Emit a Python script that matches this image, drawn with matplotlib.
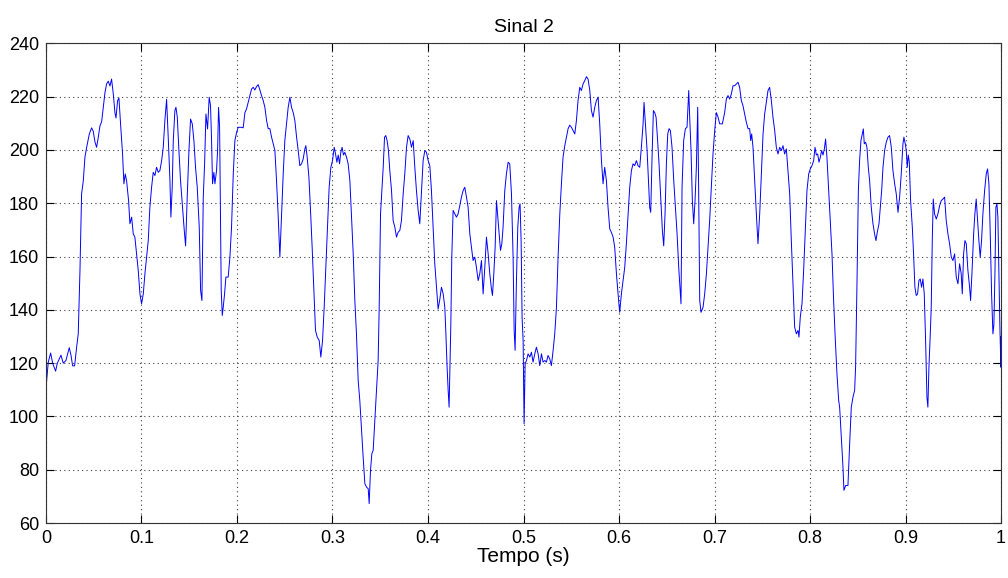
import matplotlib
matplotlib.use("Agg")
import matplotlib.pyplot as plt
import numpy as np

plt.rcParams['font.family'] = ['Liberation Sans', 'DejaVu Sans']

# tempo em ms e amplitude
t_ms = [
    0, 2.4, 4.9, 7.0, 10.1, 11.9, 15.7, 18.1, 20.9, 24.4, 26.2, 27.9, 30.0, 32.1, 33.8, 35.6,
    37.3, 39.1, 40.8, 42.6, 45.4, 47.8, 49.5, 51.3, 53.0, 54.8, 56.5, 58.3, 60.0, 61.8, 63.5,
    65.2, 67.0, 68.7, 70.5, 72.2, 73.3, 75.0, 76.4, 78.1, 80.2, 81.6, 83.0, 84.4, 86.5, 87.9,
    89.7, 91.4, 93.1, 94.9, 96.6, 98.4, 100.1, 101.9, 103.6, 105.4, 107.1, 108.8, 110.6, 112.3,
    114.1, 115.8, 117.6, 119.3, 121.1, 122.8, 124.5, 126.3, 128.0, 129.8, 130.8, 132.2, 133.3,
    135.0, 136.1, 137.5, 139.2, 140.9, 143.0, 144.8, 146.2, 147.9, 149.7, 151.4, 153.2, 154.9,
    156.6, 158.4, 160.5, 161.9, 163.3, 164.7, 166.1, 167.5, 169.2, 170.9,
    172.3, 173.4, 174.4, 175.8, 176.9, 178.6, 179.7, 180.7, 181.8, 182.8, 183.5, 184.6, 185.6,
    187.0, 188.4, 190.8, 192.6, 194.3, 196.1, 197.8, 199.6, 201.3, 204.8, 206.5, 208.3, 210.0,
    211.8, 213.5, 215.3, 217.0, 218.7, 220.5, 222.2, 224.0, 225.7, 227.5, 229.2, 231.0, 232.7,
    234.4, 236.2, 237.9, 239.7, 241.4, 243.2, 244.9, 246.7, 248.4, 250.1, 251.9, 253.6, 255.4,
    257.1, 258.9, 260.6, 262.4, 264.1, 265.8, 267.6, 269.3, 271.1, 272.1, 273.5, 275.3, 277.0,
    278.7, 280.5, 282.2, 284.0, 286.1, 287.8, 289.6, 291.3, 293.0, 294.8, 296.5, 298.3, 300.0,
    301.8, 303.2, 304.6, 306.0, 307.4, 308.7, 310.1, 311.5, 312.9, 314.7, 316.4, 318.2, 319.9,
    321.7, 323.4, 325.1, 326.9, 328.6,
    332.1, 333.9, 335.6, 337.4, 338.4, 339.8, 341.2, 342.6, 344.3, 346.1, 347.8, 348.9, 350.3,
    351.7, 353.1, 354.5, 355.8, 357.2, 358.6, 360.0, 361.8, 363.5, 365.3, 367.0, 368.7, 370.5,
    372.2, 374.0, 375.7, 377.5, 379.2, 381.0, 382.7, 384.5, 386.2, 387.9, 389.7, 391.4, 393.2,
    394.9, 396.7, 398.4, 400.2, 401.9, 403.6, 405.4, 407.1, 408.9, 410.6, 412.4, 414.1, 415.9,
    417.6, 418.6, 420.0, 421.1, 422.1, 422.8, 423.9, 424.9, 426.3, 428.1, 429.8, 431.5, 433.3,
    435.0, 436.8, 438.5, 440.3, 442.0, 443.8, 445.5, 447.2, 449.0, 450.7, 452.5, 454.2, 456.0,
    457.7, 459.5, 461.2, 463.0, 464.7, 466.4, 467.5, 468.9, 470.3, 471.7, 473.1, 474.5, 475.9,
    477.3, 478.6, 480.4, 482.1, 483.9, 485.6, 487.4, 489.1, 490.2, 491.2, 492.6, 494.0, 495.4,
    496.4, 497.5, 498.5, 499.6,
    500.6, 501.7, 503.1, 504.8, 506.6, 508.3, 510.0, 511.8, 513.5, 515.3, 517.0, 518.8, 520.5,
    522.3, 524.0, 525.7, 527.5, 529.2, 531.0, 532.7, 534.5, 536.2, 538.0, 539.7, 541.4, 543.2,
    544.9, 546.7, 548.4, 550.2, 551.9, 553.7, 555.4, 557.1, 558.9, 560.6, 562.4, 564.1, 565.9,
    567.6, 569.4, 571.1, 572.8, 574.6, 576.3, 578.1, 579.8, 581.6, 583.3, 585.0, 586.8, 588.5,
    590.3, 592.0, 593.8, 595.5, 597.3, 599.0, 600.7, 602.5, 604.2, 606.0, 607.7, 609.5, 611.2,
    613.0, 614.7, 616.4, 618.2, 619.9, 621.7, 623.4, 625.2, 626.2, 627.6, 629.4, 630.8, 632.1,
    633.2, 634.6, 636.0, 637.4, 638.8, 640.2, 641.9, 643.7, 645.4, 646.8, 648.2, 649.6, 651.0,
    652.4, 653.8, 655.5, 657.3, 659.0, 660.8, 662.5, 663.6, 664.9,
    666.0, 667.7, 669.5, 671.2, 673.0, 674.0, 675.4, 676.8, 678.2, 679.6, 681.0, 682.4, 683.4,
    684.5, 685.9, 688.0, 689.7, 691.5, 693.2, 694.9, 696.7, 698.4, 700.2, 701.9, 703.7, 705.4,
    708.2, 710.6, 712.4, 714.1, 715.9, 717.6, 719.4, 721.1, 722.9, 724.6, 726.3, 728.1, 729.8,
    731.6, 733.3, 735.1, 736.8, 737.9, 738.9, 740.3, 742.0, 743.8, 745.5, 747.3, 749.0, 750.8,
    752.5, 754.3, 756.0, 757.7, 759.5, 761.2, 763.0, 764.7, 766.5, 768.2, 770.0, 771.7, 773.4,
    775.2, 776.9, 778.7, 780.4, 782.2, 783.9, 785.7, 787.4, 788.4, 789.8, 791.6, 793.3, 795.1,
    796.8, 798.6, 800.3, 802.0, 803.8, 805.2, 806.6, 808.0, 809.4, 810.8, 812.2, 813.6, 815.0,
    816.3, 817.7, 819.5, 821.2, 823.0, 824.7, 826.5, 828.2, 830.0,
    831.0, 832.8, 834.5, 835.5, 837.3, 839.7, 841.5, 843.2, 845.0, 846.7, 847.7, 849.1, 850.6,
    851.9, 853.3, 854.7, 855.8, 856.8, 858.2, 859.6, 861.0, 862.4, 864.1, 865.9, 867.6, 869.0,
    870.4, 872.2, 873.6, 875.0, 876.4, 878.1, 879.8, 881.6, 883.3, 885.1, 886.8, 888.6, 890.3,
    892.1, 893.8, 895.5, 897.3, 898.3, 899.7, 900.8, 901.8, 902.9, 903.9, 905.3, 907.1, 908.4,
    909.8, 911.2, 912.6, 914.0, 915.4, 916.8, 918.2, 919.6, 921.0, 922.4, 923.4, 924.5, 925.9,
    926.9, 928.0, 929.0, 930.4, 932.2, 933.9, 935.7, 937.4, 939.2, 940.9, 942.6, 944.4, 946.1,
    947.9, 949.6, 951.4, 953.1, 954.9, 956.6, 958.3, 959.4, 960.8, 962.2, 963.6, 965.3, 967.1,
    968.1, 969.5, 971.3, 972.6, 974.0, 975.4, 976.8, 978.2, 979.6, 981.0, 982.8, 984.5, 985.9,
    987.3, 988.7, 990.1, 991.5, 992.5, 993.6, 994.6, 995.7, 996.7, 997.8, 998.8, 999.8, 1000.0,
]

sinal = [
    110.4, 120.4, 123.8, 120.0, 117.0, 120.0, 123.0, 120.0, 121.0, 125.8, 123.0, 119.0, 119.0, 126.0, 131.0, 154.8,
    183.5, 188.5, 197.3, 201.0, 206.0, 208.3, 207.0, 203.0, 201.0, 204.8, 209.0, 210.6, 216.0, 221.6, 224.8,
    225.8, 224.0, 226.6, 221.0, 214.0, 212.0, 218.5, 219.5, 209.8, 198.5, 187.3, 191.0, 188.5, 181.0, 172.3,
    174.8, 168.5, 167.3, 161.0, 154.8, 146.0, 142.3, 146.0, 153.5, 159.8, 166.0, 178.5, 186.0, 191.6,
    190.4, 193.5, 191.6, 192.3, 196.0, 201.0, 211.0, 219.0, 204.8, 188.5, 174.8, 186.0, 203.5,
    214.8, 216.0, 212.3, 199.8, 188.5, 178.5, 169.8, 164.0, 182.3, 199.8, 211.6, 209.8, 203.5,
    193.5, 186.0, 171.0, 147.3, 143.5, 182.3, 194.8, 213.5, 207.9, 219.8,
    216.6, 203.5, 187.3, 191.6, 187.3, 192.3, 199.8, 216.0, 208.5, 172.3, 147.3, 137.9, 141.0,
    146.0, 152.3, 152.3, 159.8, 171.0, 191.0, 203.5, 206.6, 208.5, 208.5, 208.3, 214.0, 215.4,
    217.9, 220.4, 222.9, 223.5, 222.5, 223.8, 224.5, 222.5, 220.4, 218.5, 216.0, 211.0, 208.0,
    208.0, 204.8, 202.3, 199.8, 188.5, 174.8, 159.8, 176.0, 191.0, 203.5, 209.8, 216.0, 219.8,
    216.0, 214.0, 211.0, 204.8, 199.8, 194.1, 194.8, 196.6, 200.4, 201.6, 197.3, 189.8, 177.3,
    163.5, 147.3, 132.3, 129.8, 128.5, 122.3, 128.5, 141.0, 156.0, 171.0, 186.0, 193.5, 196.0,
    201.0, 198.5, 195.4, 198.1, 194.8, 199.1, 201.0, 198.1, 199.1, 197.3, 194.8, 188.5, 174.8,
    161.0, 143.5, 131.0, 113.5, 106.0,
    84.8, 74.8, 73.5, 72.9, 67.3, 79.8, 86.0, 87.3, 98.5, 111.0, 121.0, 141.0, 176.0,
    184.8, 193.5, 204.8, 205.4, 203.5, 199.8, 192.3, 184.8, 173.5, 171.0, 167.3, 169.1, 169.8,
    173.5, 183.5, 191.0, 201.0, 205.4, 204.1, 201.0, 203.5, 193.5, 184.8, 177.3, 172.3, 184.8,
    196.0, 199.8, 199.1, 196.0, 194.1, 184.8, 171.0, 157.3, 148.5, 140.3, 144.0, 148.5, 146.0,
    141.0, 132.3, 118.5, 109.8, 103.5, 116.0, 134.5, 159.8, 177.3, 176.0, 174.8, 176.0, 179.1,
    182.3, 184.8, 186.0, 182.3, 178.5, 168.5, 163.5, 158.5, 159.8, 156.0, 151.0, 153.5, 158.5,
    146.0, 156.0, 167.3, 161.0, 153.5, 147.9, 145.4, 153.5, 163.5, 181.0, 174.8, 168.5, 162.3,
    164.8, 171.0, 184.8, 191.0, 195.4, 194.8, 183.5, 159.8, 132.3, 124.8, 151.0, 171.0, 178.5,
    179.8, 166.0, 137.3, 128.5,
    97.3, 119.8, 121.0, 123.5, 122.3, 124.1, 120.4, 123.5, 126.0, 123.5, 119.1, 123.5, 120.4,
    121.0, 120.4, 122.9, 121.6, 119.1, 124.8, 131.0, 141.0, 159.8, 176.0, 187.3, 197.3, 201.6,
    204.8, 208.0, 209.3, 208.5, 207.3, 206.0, 211.0, 218.5, 223.5, 222.3, 224.8, 226.0, 227.5,
    226.6, 222.3, 214.8, 212.3, 216.0, 218.5, 219.8, 209.8, 196.0, 187.3, 193.5, 188.5, 178.5,
    170.4, 169.1, 167.3, 163.5, 153.5, 146.0, 139.1, 146.0, 151.0, 156.0, 164.8, 176.0, 186.0,
    192.3, 194.8, 194.1, 196.0, 194.1, 193.5, 201.0, 209.8, 217.9, 209.8, 199.8, 188.5, 178.5,
    176.6, 197.3, 214.8, 214.0, 212.3, 204.8, 194.8, 182.3, 169.8, 164.0, 176.0, 194.8, 206.0,
    208.0, 207.3, 201.0, 188.5, 178.5, 168.5, 156.0, 149.8, 142.3,
    186.0, 203.5, 208.0, 208.5, 222.3, 212.3, 199.8, 181.0, 172.3, 181.0, 193.5, 216.0, 184.8,
    143.5, 139.1, 141.0, 146.0, 153.5, 163.5, 173.5, 186.0, 198.5, 207.3, 214.0, 212.3, 209.8,
    209.8, 214.0, 219.1, 220.4, 219.1, 221.0, 224.1, 224.1, 224.8, 225.4, 223.5, 218.5, 216.6,
    213.5, 210.4, 208.0, 208.0, 203.5, 206.0, 201.0, 188.5, 176.0, 164.8, 176.0, 191.0, 206.0,
    213.5, 217.9, 222.3, 223.5, 218.5, 212.3, 207.3, 201.0, 198.5, 201.0, 199.8, 201.6, 198.5,
    200.4, 192.3, 183.5, 166.0, 149.8, 133.5, 131.0, 132.3, 129.8, 137.3, 142.3, 154.8, 169.8,
    184.8, 191.0, 192.9, 194.1, 196.0, 201.0, 198.1, 198.5, 195.4, 197.3, 199.8, 198.1, 200.4,
    204.1, 197.3, 184.8, 172.3, 161.0, 143.5, 128.5, 116.0, 106.0,
    103.5, 92.3, 81.0, 72.3, 74.1, 74.1, 89.8, 103.5, 107.3, 109.8, 118.5, 148.5, 184.8,
    196.0, 203.5, 206.0, 207.9, 202.3, 202.9, 201.0, 193.5, 188.5, 178.5, 172.3, 168.5, 166.0,
    169.1, 172.3, 178.5, 184.8, 193.5, 199.8, 202.9, 204.8, 205.4, 201.0, 192.3, 187.3, 183.5,
    176.6, 182.3, 191.0, 202.3, 204.8, 202.3, 199.8, 193.5, 198.1, 195.6, 181.0, 171.0, 161.0,
    148.5, 145.4, 146.0, 151.0, 151.6, 148.5, 151.6, 146.0, 128.5, 107.3, 103.5, 118.5, 131.0,
    141.0, 166.0, 181.6, 176.0, 174.1, 176.0, 179.1, 181.0, 181.6, 182.3, 173.5, 168.5, 164.8,
    159.8, 158.5, 161.0, 152.3, 149.8, 157.3, 153.5, 146.0, 161.0, 166.0, 164.8, 154.8, 148.5,
    143.5, 153.5, 168.5, 176.0, 181.6, 173.5, 166.0, 159.8, 166.0, 176.0, 184.8, 191.0, 192.9,
    187.3, 168.5, 146.0, 131.0, 134.5, 153.5, 178.5, 179.8, 174.8, 153.5, 133.5, 118.5, 130.0,
]

x_ticks = [0, 0.1, 0.2, 0.3, 0.4, 0.5, 0.6, 0.7, 0.8, 0.9, 1]
x_labels = ['0', '0.1', '0.2', '0.3', '0.4', '0.5', '0.6', '0.7', '0.8', '0.9', '1']
y_ticks = [60, 80, 100, 120, 140, 160, 180, 200, 220, 240]

tempo = np.array(t_ms) / 1000.0

fig = plt.figure(figsize=(10.08, 5.78), dpi=100)
ax = fig.add_axes([0.0456, 0.095, 0.9475, 0.83])

ax.plot(tempo, sinal, color='#0000FF', linewidth=0.7)

ax.set_xlim(0, 1)
ax.set_ylim(60, 240)
ax.set_xticks(x_ticks)
ax.set_xticklabels(x_labels)
ax.set_yticks(y_ticks)

# estilo parecido com o MATLAB
ax.grid(True, linestyle=(0, (1, 3)), color='#404040', linewidth=0.8)
ax.tick_params(direction='in', top=True, right=True, length=6, width=0.8,
               labelsize=13, colors='black', pad=5)
for s in ax.spines.values():
    s.set_linewidth(0.8)
    s.set_color('#333333')

ax.set_title('Sinal 2', fontsize=14, pad=8)
ax.set_xlabel('Tempo (s)', fontsize=15, labelpad=0)

fig.savefig('out.png', dpi=100)
